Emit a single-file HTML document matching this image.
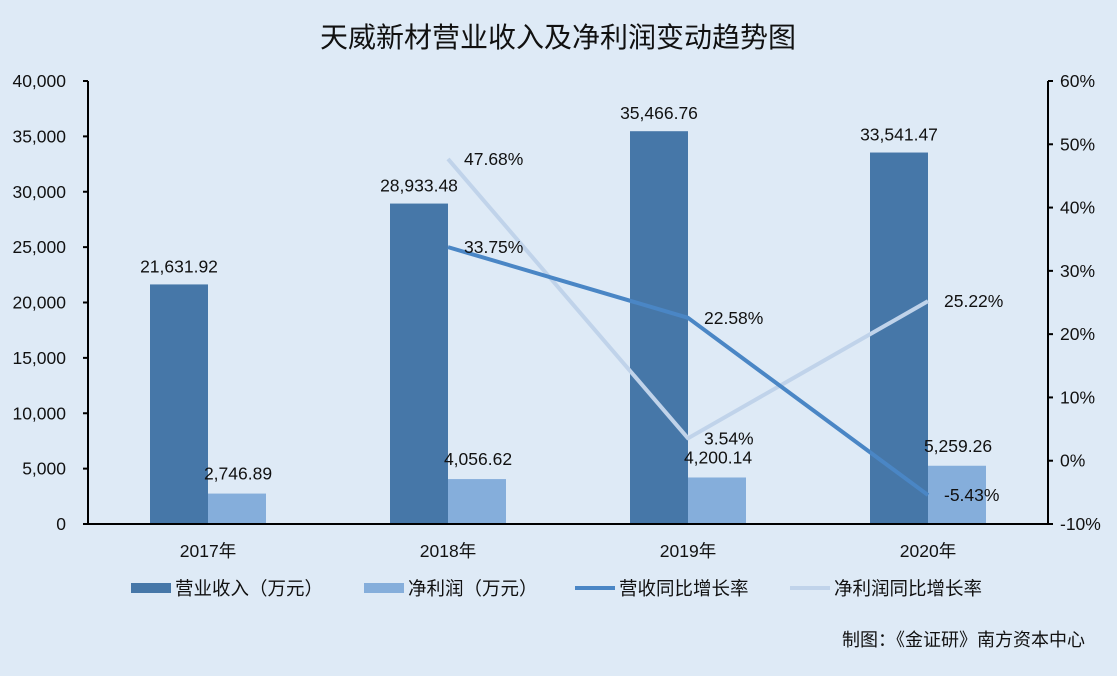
<!DOCTYPE html>
<html><head><meta charset="utf-8">
<style>
html,body{margin:0;padding:0;background:#deeaf6;}
body{width:1117px;height:671px;overflow:hidden;font-family:"Liberation Sans","Noto Sans CJK SC",sans-serif;}
svg text{font-family:"Liberation Sans","Noto Sans CJK SC",sans-serif;fill:#111;}
</style></head>
<body>
<svg id="chart" width="1117" height="671">
<rect width="1117" height="671" fill="#deeaf6"/>
<text x="558" y="47" font-size="28" text-anchor="middle">天威新材营业收入及净利润变动趋势图</text>
<text x="1085" y="646" font-size="18" text-anchor="end">制图：《金证研》南方资本中心</text>
</svg>
<script>
const categories=["2017年","2018年","2019年","2020年"];
const revenue=[21631.92,28933.48,35466.76,33541.47];
const profit=[2746.89,4056.62,4200.14,5259.26];
const revGrowth=[null,33.75,22.58,-5.43];
const profGrowth=[null,47.68,3.54,25.22];
const leftTicks=[0,5000,10000,15000,20000,25000,30000,35000,40000];
const rightTicks=[-10,0,10,20,30,40,50,60];

const svg=document.getElementById('chart');
const NS='http://www.w3.org/2000/svg';
const X0=88,X1=1048,Y0=524,Y1=81;
const FS=17.5;
function yL(v){return Y0-(v/40000)*(Y0-Y1);}
function yR(v){return Y0-((v+10)/70)*(Y0-Y1);}
function xC(i){return X0+(X1-X0)/categories.length*(i+0.5);}
function mk(tag,attrs,txt){const e=document.createElementNS(NS,tag);for(const k in attrs)e.setAttribute(k,attrs[k]);if(txt!==undefined)e.textContent=txt;svg.appendChild(e);return e;}
function fmt(v){return v.toLocaleString('en-US',{minimumFractionDigits:2,maximumFractionDigits:2});}

let e=mk('line',{x1:X0,y1:Y1,x2:X0,y2:Y0+1,stroke:'#000','stroke-width':2});


e=mk('line',{x1:X1,y1:Y1,x2:X1,y2:Y0+1,stroke:'#000','stroke-width':2});


leftTicks.forEach(t=>{
  const y=yL(t);
  mk('line',{x1:X0-5,y1:y,x2:X0,y2:y,stroke:'#000','stroke-width':2});
  e=mk('text',{x:66,y:y+6,'font-size':FS,'text-anchor':'end'},t.toLocaleString('en-US'));
  
  
});
rightTicks.forEach(t=>{
  const y=yR(t);
  mk('line',{x1:X1,y1:y,x2:X1+5,y2:y,stroke:'#000','stroke-width':2});
  e=mk('text',{x:1060,y:y+6,'font-size':FS},t+'%');
  
  
});
categories.forEach((c,i)=>{
  const cx=xC(i);
  e=mk('rect',{x:cx-58,y:yL(revenue[i]),width:58,height:Y0-yL(revenue[i]),fill:'#4677a8'});
  
  
  e=mk('rect',{x:cx,y:yL(profit[i]),width:58,height:Y0-yL(profit[i]),fill:'#85aedb'});
  
  
  e=mk('text',{x:cx-29,y:yL(revenue[i])-12,'font-size':FS,'text-anchor':'middle'},fmt(revenue[i]));
  
  
  e=mk('text',{x:cx+30,y:yL(profit[i])-14,'font-size':FS,'text-anchor':'middle'},fmt(profit[i]));
  
  
  e=mk('text',{x:cx,y:557,'font-size':FS,'text-anchor':'middle'},c);
  
  
});
e=mk('line',{x1:X0,y1:Y0,x2:X1,y2:Y0,stroke:'#000','stroke-width':2});


function line(arr,color,name){
  const pts=[];arr.forEach((v,i)=>{if(v!==null)pts.push(xC(i)+','+yR(v));});
  const l=mk('polyline',{points:pts.join(' '),fill:'none',stroke:color,'stroke-width':4,'stroke-linejoin':'round'});
  
  
}
line(profGrowth,'#c0d3ea','profit-growth-line');
line(revGrowth,'#4a86c5','revenue-growth-line');
revGrowth.forEach((v,i)=>{if(v===null)return;
  e=mk('text',{x:xC(i)+16,y:yR(v)+6,'font-size':FS},v.toFixed(2)+'%');
  
  
});
profGrowth.forEach((v,i)=>{if(v===null)return;
  e=mk('text',{x:xC(i)+16,y:yR(v)+6,'font-size':FS},v.toFixed(2)+'%');
  
  
});
const leg=[['rect','#4677a8','营业收入（万元）',131],['rect','#85aedb','净利润（万元）',364],['line','#4a86c5','营收同比增长率',575],['line','#c0d3ea','净利润同比增长率',790]];
leg.forEach(([t,c,l,x])=>{
  if(t==='rect')mk('rect',{x:x,y:583,width:40,height:10,fill:c});
  else mk('line',{x1:x,y1:588,x2:x+40,y2:588,stroke:c,'stroke-width':4});
  e=mk('text',{x:x+44,y:595,'font-size':18.5},l);
  
  
});
</script>
</body></html>
